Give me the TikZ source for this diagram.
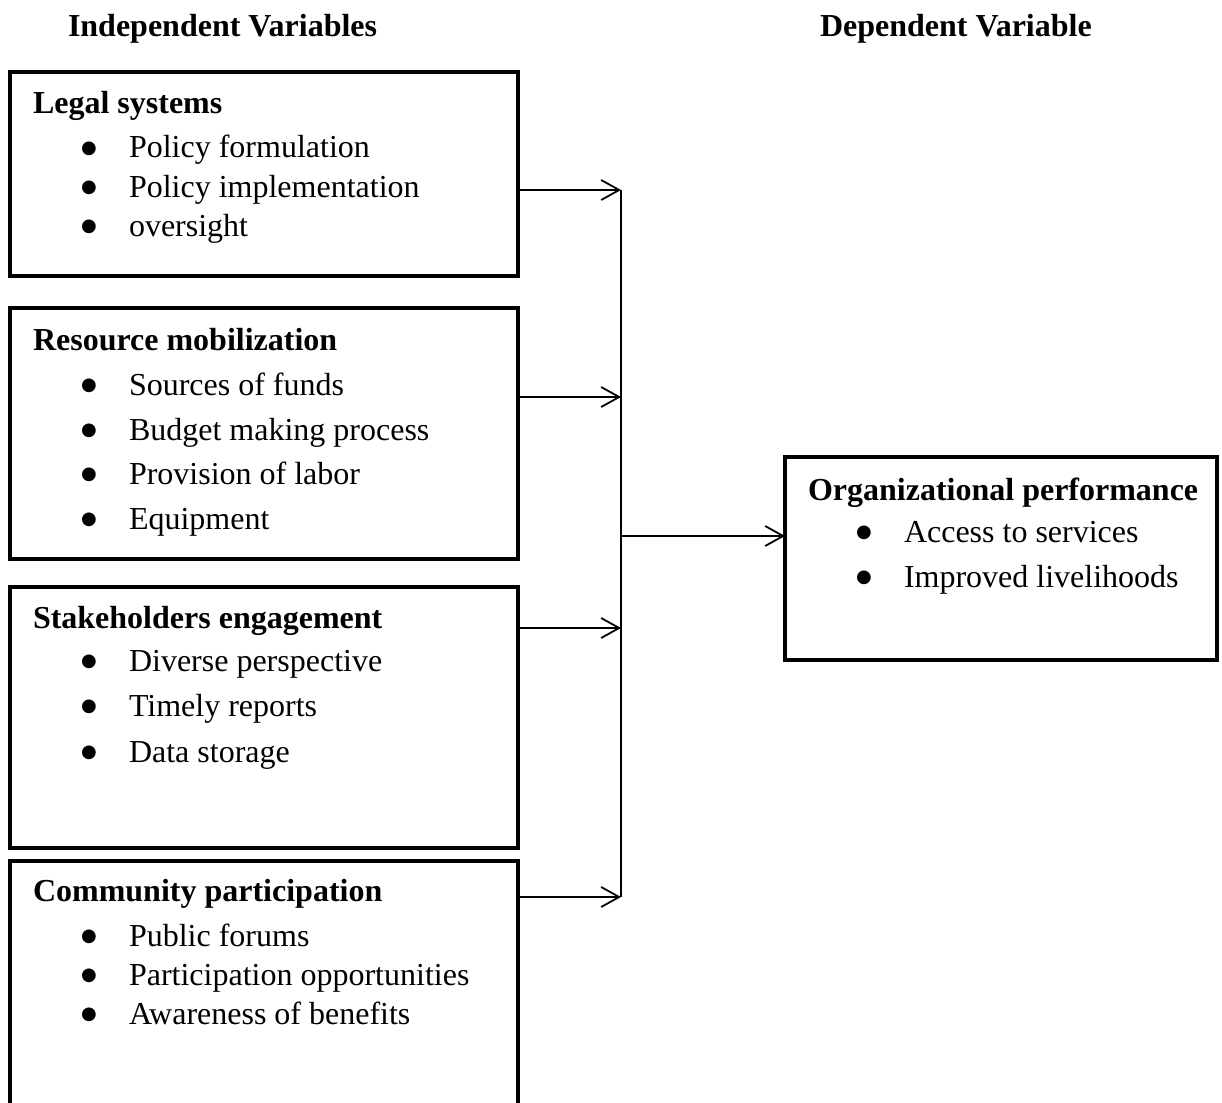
\documentclass[tikz,border=0pt]{standalone}
\usepackage{fontspec}
\setmainfont{Liberation Serif}
\newfontfamily\dejavu{DejaVu Sans}
\usetikzlibrary{arrows.meta}
\begin{document}
\begin{tikzpicture}[x=1pt,y=-1pt,
  every node/.style={inner sep=0pt, outer sep=0pt},
  box/.style={draw, line width=4.5pt, rectangle, minimum width=508pt},
  txt/.style={anchor=base west, font=\fontsize{32}{38}\selectfont},
  hd/.style={anchor=base west, font=\fontsize{32}{38}\selectfont\bfseries},
  bul/.style={anchor=center, font=\dejavu\fontsize{18}{20}\selectfont},
  conn/.style={line width=1.8pt},
  arr/.style={line width=1.8pt, -{Straight Barb[length=18pt,width=20pt,line width=1.8pt]}}
]
\useasboundingbox (0,0) rectangle (1222,1102);
\clip (0,0) rectangle (1222,1102);

% headers
\node[hd] (hI) at (68,37) {Independent Variables};
\node[hd] (hD) at (820,37) {Dependent Variable};

% boxes
\node[box, minimum height=204pt] (b1) at (264,174) {};
\node[box, minimum height=251pt] (b2) at (264,433.5) {};
\node[box, minimum height=261pt] (b3) at (264,717.5) {};
\node[box, minimum height=259pt] (b4) at (264,990.5) {};
\node[box, minimum width=432pt, minimum height=203pt] (rb) at (1001,558.5) {};

% box 1
\node[hd] (t1h) at (33,114) {Legal systems};
\node[bul] (p1a) at (89,149) {●};
\node[txt] (t1a) at (129,158) {Policy formulation};
\node[bul] (p1b) at (89,188) {●};
\node[txt] (t1b) at (129,197) {Policy implementation};
\node[bul] (p1c) at (89,227) {●};
\node[txt] (t1c) at (129,236) {oversight};

% box 2
\node[hd] (t2h) at (33,350) {Resource mobilization};
\node[bul] (p2a) at (89,386) {●};
\node[txt] (t2a) at (129,395) {Sources of funds};
\node[bul] (p2b) at (89,431) {●};
\node[txt] (t2b) at (129,440) {Budget making process};
\node[bul] (p2c) at (89,475) {●};
\node[txt] (t2c) at (129,484) {Provision of labor};
\node[bul] (p2d) at (89,520) {●};
\node[txt] (t2d) at (129,529) {Equipment};

% box 3
\node[hd] (t3h) at (33,628) {Stakeholders engagement};
\node[bul] (p3a) at (89,662) {●};
\node[txt] (t3a) at (129,671) {Diverse perspective};
\node[bul] (p3b) at (89,707) {●};
\node[txt] (t3b) at (129,716) {Timely reports};
\node[bul] (p3c) at (89,753) {●};
\node[txt] (t3c) at (129,762) {Data storage};

% box 4
\node[hd] (t4h) at (33,901) {Community participation};
\node[bul] (p4a) at (89,937) {●};
\node[txt] (t4a) at (129,946) {Public forums};
\node[bul] (p4b) at (89,976) {●};
\node[txt] (t4b) at (129,985) {Participation opportunities};
\node[bul] (p4c) at (89,1015) {●};
\node[txt] (t4c) at (129,1024) {Awareness of benefits};

% right box
\node[hd] (trh) at (808,500) {Organizational performance};
\node[bul] (pra) at (864,533) {●};
\node[txt] (tra) at (904,542) {Access to services};
\node[bul] (prb) at (864,578) {●};
\node[txt] (trb) at (904,587) {Improved livelihoods};

% connectors
\coordinate (j1) at (621,190);
\coordinate (j2) at (621,397);
\coordinate (j3) at (621,628);
\coordinate (j4) at (621,897);
\coordinate (jm) at (621,536);
\draw[arr] (j1 -| b1.east) -- (j1);
\draw[arr] (j2 -| b2.east) -- (j2);
\draw[arr] (j3 -| b3.east) -- (j3);
\draw[arr] (j4 -| b4.east) -- (j4);
\draw[conn] (j1) -- (j4);
\draw[arr] (jm) -- (jm -| rb.west);
\end{tikzpicture}
\end{document}
